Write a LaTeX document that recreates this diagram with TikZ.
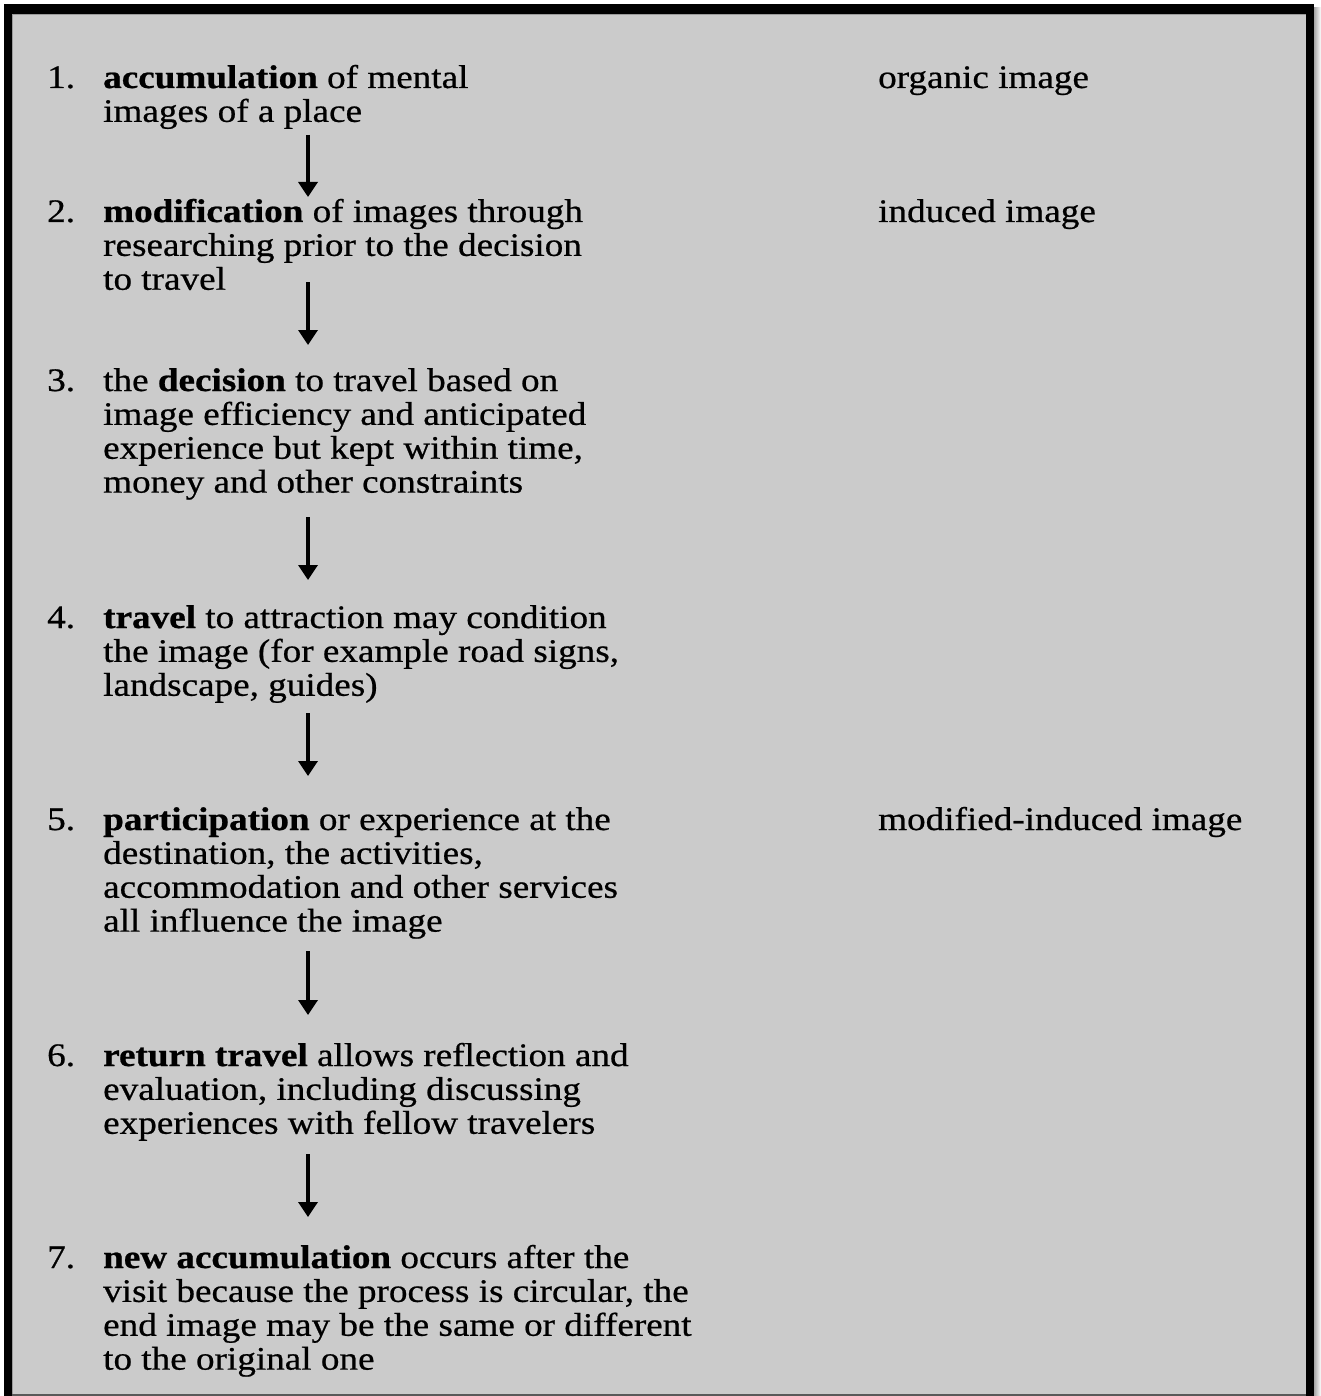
\documentclass[tikz,border=0pt]{standalone}
\usepackage{fontspec}
\setmainfont{Liberation Serif}[FakeStretch=1.13,
  UprightFeatures={FakeBold=0.6},
  BoldFeatures={FakeBold=0.7}]
\usetikzlibrary{arrows.meta}

\definecolor{panelgray}{HTML}{CBCBCB}
\definecolor{edgegray}{HTML}{9A9A9A}

% lines of one step, aligned on the baseline of the first line
\newcommand{\steplines}[1]{\begin{tabular}[t]{@{}l@{}}#1\end{tabular}}

\tikzset{
  itemtext/.style={anchor=base west, inner sep=0pt,
    font={\fontsize{33}{34}\selectfont}},
  itemnum/.style={anchor=base west, inner sep=0pt,
    font={\fontsize{33}{34}\selectfont}},
  imagelabel/.style={anchor=base west, inner sep=0pt,
    font={\fontsize{33}{34}\selectfont}},
  flow/.style={line width=3.5bp, -{Triangle[width=19bp,length=15bp]}}
}

\begin{document}
\begin{tikzpicture}[x=1bp, y=-1bp]
  \useasboundingbox (0,0) rectangle (1321,1396);
  \fill[white] (0,0) rectangle (1321,1396);

  % framed grey panel with a soft shadow on the right
  \shade[left color=gray!70, right color=white] (1314,8) rectangle (1321,1396);
  \fill[black] (4,4) rectangle (1314,1396);
  \fill[panelgray] (12,14) rectangle (1306,1396);
  \draw[edgegray, line width=1bp] (12.5,14.5) -- (1305.5,14.5);
  \draw[edgegray, line width=1bp] (12.5,14.5) -- (12.5,1396);
  \draw[gray!70!black, line width=1.5bp] (12,1395.2) -- (1306,1395.2);

  % step numbers
  \node[itemnum] (n1) at (47,88)   {1.};
  \node[itemnum] (n2) at (47,222)  {2.};
  \node[itemnum] (n3) at (47,391)  {3.};
  \node[itemnum] (n4) at (47,628)  {4.};
  \node[itemnum] (n5) at (47,830)  {5.};
  \node[itemnum] (n6) at (47,1066) {6.};
  \node[itemnum] (n7) at (47,1268) {7.};

  % step descriptions
  \node[itemtext] (i1) at (103,88) {\steplines{\textbf{accumulation} of mental\\images of a place}};
  \node[itemtext] (i2) at (103,222) {\steplines{\textbf{modification} of images through\\researching prior to the decision\\to travel}};
  \node[itemtext] (i3) at (103,391) {\steplines{the \textbf{decision} to travel based on\\image efficiency and anticipated\\experience but kept within time,\\money and other constraints}};
  \node[itemtext] (i4) at (103,628) {\steplines{\textbf{travel} to attraction may condition\\the image (for example road signs,\\landscape, guides)}};
  \node[itemtext] (i5) at (103,830) {\steplines{\textbf{participation} or experience at the\\destination, the activities,\\accommodation and other services\\all influence the image}};
  \node[itemtext] (i6) at (103,1066) {\steplines{\textbf{return travel} allows reflection and\\evaluation, including discussing\\experiences with fellow travelers}};
  \node[itemtext] (i7) at (103,1268) {\steplines{\textbf{new accumulation} occurs after the\\visit because the process is circular, the\\end image may be the same or different\\to the original one}};

  % image types
  \node[imagelabel] (organic)  at (878,88)  {organic image};
  \node[imagelabel] (induced)  at (878,222) {induced image};
  \node[imagelabel] (modified) at (878,830) {modified-induced image};

  % arrow end points between the steps
  \coordinate (a1s) at (308,135);  \coordinate (a1e) at (308,197);
  \coordinate (a2s) at (308,282);  \coordinate (a2e) at (308,345);
  \coordinate (a3s) at (308,517);  \coordinate (a3e) at (308,580);
  \coordinate (a4s) at (308,713);  \coordinate (a4e) at (308,776);
  \coordinate (a5s) at (308,951);  \coordinate (a5e) at (308,1015);
  \coordinate (a6s) at (308,1154); \coordinate (a6e) at (308,1217);

  \draw[flow] (a1s) -- (a1e);
  \draw[flow] (a2s) -- (a2e);
  \draw[flow] (a3s) -- (a3e);
  \draw[flow] (a4s) -- (a4e);
  \draw[flow] (a5s) -- (a5e);
  \draw[flow] (a6s) -- (a6e);
\end{tikzpicture}
\end{document}
